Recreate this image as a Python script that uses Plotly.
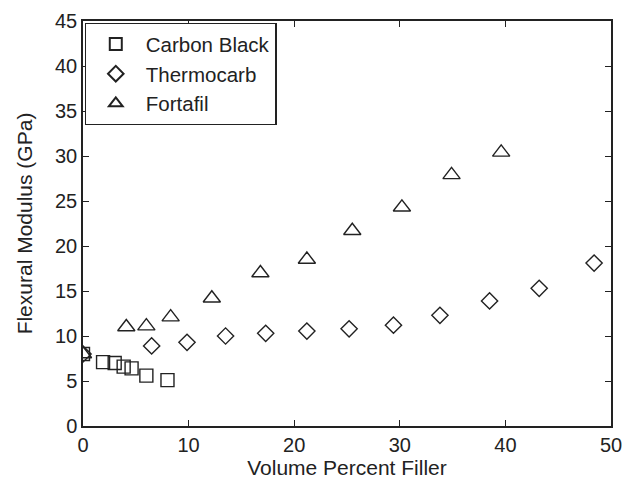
import plotly.graph_objects as go

cb_x = [0, 1.9, 3.0, 3.85, 4.6, 6.0, 8.0]
cb_y = [8.0, 7.1, 7.0, 6.6, 6.4, 5.6, 5.1]

tc_x = [0, 6.5, 9.85, 13.5, 17.3, 21.2, 25.2, 29.4, 33.8, 38.5, 43.2, 48.4]
tc_y = [8.0, 8.9, 9.3, 10.0, 10.3, 10.55, 10.8, 11.2, 12.3, 13.9, 15.3, 18.1]

ff_x = [0, 4.1, 6.0, 8.3, 12.2, 16.8, 21.2, 25.5, 30.2, 34.9, 39.6]
ff_y = [8.0, 11.0, 11.1, 12.1, 14.2, 17.0, 18.5, 21.7, 24.3, 27.9, 30.4]

font = "Liberation Sans, Arial, sans-serif"

fig = go.Figure()
fig.add_trace(go.Scatter(x=cb_x, y=cb_y, mode="markers", name="Carbon Black",
                         marker=dict(symbol="square-open", size=13, color="#222",
                                     line=dict(width=1.4))))
fig.add_trace(go.Scatter(x=tc_x, y=tc_y, mode="markers", name="Thermocarb",
                         marker=dict(symbol="diamond-open", size=12.5, color="#222",
                                     line=dict(width=1.4))))
fig.add_trace(go.Scatter(x=ff_x, y=ff_y, mode="markers", name="Fortafil",
                         marker=dict(symbol="triangle-up-open", size=15, color="#222",
                                     line=dict(width=1.4))))

axis_common = dict(showgrid=False, zeroline=False, showline=True, linecolor="#222",
                   linewidth=1.5, mirror="ticks", ticks="inside", ticklen=6,
                   tickcolor="#222", automargin=False,
                   tickfont=dict(family=font, size=20, color="#222"))

fig.update_layout(
    width=633, height=487,
    margin=dict(l=83, r=22, t=21, b=61),
    paper_bgcolor="white", plot_bgcolor="white",
    showlegend=True,
    legend=dict(x=0.003, y=0.995, xanchor="left", yanchor="top",
                bordercolor="#222", borderwidth=1.2, bgcolor="white",
                font=dict(family=font, size=20.5, color="#222"),
                itemsizing="constant", itemwidth=50, tracegroupgap=0),
    xaxis=dict(range=[0, 50], tickvals=[0, 10, 20, 30, 40, 50],
               title=dict(text="Volume Percent Filler", standoff=2,
                          font=dict(family=font, size=21, color="#222")),
               **axis_common),
    yaxis=dict(range=[0, 45], tickvals=list(range(0, 46, 5)),
               title=dict(text="Flexural Modulus (GPa)", standoff=17,
                          font=dict(family=font, size=21, color="#222")),
               **axis_common),
)

fig.write_html("out.html", config={"displayModeBar": False},
               post_script="document.body.style.margin='0';")
